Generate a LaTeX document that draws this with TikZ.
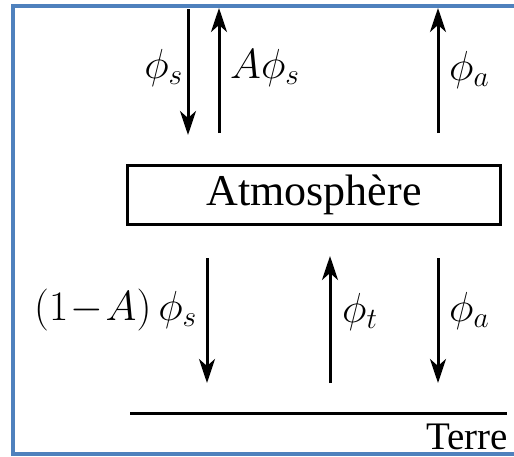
\RequirePackage{fix-cm}
\documentclass[tikz,border=0pt]{standalone}
\usepackage{fontspec}
\setmainfont{Liberation Serif}
\usetikzlibrary{arrows.meta}
\definecolor{frameblue}{HTML}{4F81BD}
\tikzset{
  flux/.style={line width=3pt,-{Stealth[length=24pt,width=16pt,inset=7pt]}},
  lbl/.style={inner sep=0pt,font=\fontsize{42}{48}\selectfont},
  boxstyle/.style={draw,line width=3pt,minimum width=373pt,minimum height=59pt,inner sep=0pt,font=\fontsize{44}{50}\selectfont},
}
\begin{document}
\begin{tikzpicture}[x=1pt,y=-1pt]
\useasboundingbox (0,0) rectangle (514,456);
% frame
\draw[frameblue,line width=4pt] (514,5.5) -- (12.5,5.5) -- (12.5,454) -- (514,454);
% atmosphere box
\node[boxstyle] (atm) at (314,195) {Atmosphère};
% coordinates
\coordinate (a1s) at (188,9);   \coordinate (a1e) at (188,135);
\coordinate (a2s) at (219,133); \coordinate (a2e) at (219,8);
\coordinate (a3s) at (438,133); \coordinate (a3e) at (438,8);
\coordinate (b1s) at (207,258); \coordinate (b1e) at (207,383);
\coordinate (b2s) at (330,383); \coordinate (b2e) at (330,256);
\coordinate (b3s) at (438,258); \coordinate (b3e) at (438,383);
\coordinate (g1) at (130,413);  \coordinate (g2) at (507,413);
% arrows
\draw[flux] (a1s) -- (a1e);
\draw[flux] (a2s) -- (a2e);
\draw[flux] (a3s) -- (a3e);
\draw[flux] (b1s) -- (b1e);
\draw[flux] (b2s) -- (b2e);
\draw[flux] (b3s) -- (b3e);
% ground
\draw[line width=3pt] (g1) -- (g2);
% labels
\node[lbl,anchor=base east] (l1) at (183,78) {$\phi_s$};
\node[lbl,anchor=base west] (l2) at (230,78) {$A\phi_s$};
\node[lbl,anchor=base west] (l3) at (449,80) {$\phi_a$};
\node[lbl,anchor=base east] (l4) at (197,320) {$(1\!-\!A)\,\phi_s$};
\node[lbl,anchor=base west] (l5) at (342,322) {$\phi_t$};
\node[lbl,anchor=base west] (l6) at (449,321) {$\phi_a$};
\node[inner sep=0pt,anchor=base east,font=\fontsize{39}{44}\selectfont] (terre) at (508,449) {Terre};
\end{tikzpicture}
\end{document}
